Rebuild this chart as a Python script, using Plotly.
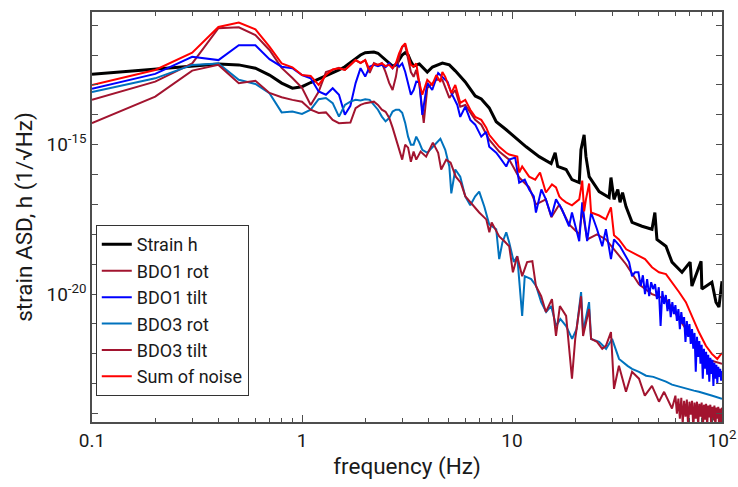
import plotly.graph_objects as go

# ---------------- data ----------------
# Frequencies in Hz; amplitudes stored as log10 of the strain ASD (1/sqrt(Hz))
freq_low = [0.1, 0.2, 0.3, 0.4, 0.5, 0.6, 0.7, 0.8, 0.9, 1.0,
            1.1, 1.2, 1.3, 1.4, 1.5, 1.6, 1.7, 1.8, 1.9, 2.0,
            2.1, 2.2, 2.3, 2.4, 2.5, 2.6, 2.7, 2.8, 2.9, 3.0,
            3.1, 3.2, 3.3, 3.4, 3.5]

strain_low_log10 = [-12.64, -12.48, -12.39, -12.30, -12.33, -12.44, -12.67, -12.94, -13.11, -13.06,
                    -12.92, -12.80, -12.69, -12.61, -12.50, -12.39, -12.26, -12.11, -12.00, -11.92,
                    -11.90, -11.90, -11.94, -12.06, -12.17, -12.28, -12.37, -12.33, -12.17, -12.00,
                    -11.92, -12.00, -12.22, -12.37, -12.33]
strain_hf_freq = [3.62, 3.95, 4.18, 4.66, 5.03, 5.37, 5.99, 6.68, 7.14, 7.79,
                  8.41, 9.39, 10.36, 11.68, 13.47, 15.36, 16.05, 16.5, 18.1, 19.3,
                  20.9, 21.3, 22.05, 22.5, 23.3, 24.6, 26.0, 29.0, 29.6, 30.6,
                  31.9, 32.7, 33.6, 34.9, 37.3, 41.6, 46.4, 47.9, 49.0, 54.1,
                  57.8, 64.5, 70.5, 71.9, 79.5, 80.2, 89.5, 93.6, 96.7, 100.0]
strain_hf_log10 = [-12.30, -12.57, -12.40, -12.27, -12.33, -12.53, -12.90, -13.37, -13.47, -13.77,
                   -14.23, -14.50, -14.77, -15.07, -15.40, -15.63, -15.27, -15.73, -15.83, -16.17,
                   -16.27, -15.17, -14.67, -15.40, -16.07, -16.30, -16.57, -16.77, -16.10, -16.83,
                   -16.50, -16.93, -16.60, -17.07, -17.60, -17.73, -17.83, -17.27, -18.17, -18.40,
                   -18.93, -19.27, -18.93, -19.73, -18.90, -19.83, -19.60, -20.27, -20.43, -19.57]

bdo1_rot_low_log10 = [-13.50, -12.89, -12.28, -11.10, -11.07, -11.33, -11.83, -12.43, -12.77, -13.10,
                      -13.67, -13.23, -12.57, -12.50, -12.43, -12.50, -12.33, -12.17, -12.27, -12.17,
                      -12.60, -12.27, -12.33, -12.27, -12.57, -12.93, -13.17, -12.73, -12.07, -11.73,
                      -11.67, -12.17, -12.57, -12.73, -12.50]
bdo1_rot_hf_freq = [3.62, 3.80, 3.95, 4.36, 4.66, 5.03, 5.37, 5.67, 5.99, 6.68,
                    7.14, 7.79, 8.69, 9.70, 10.82, 12.07, 13.0, 14.5, 15.4, 16.8,
                    18.7, 20.9, 21.6, 22.8, 25.4, 28.0, 30.6, 34.9, 40.25, 46.4,
                    54.1, 62.4, 71.9, 83.8, 100.0]
bdo1_rot_hf_log10 = [-12.97, -14.27, -13.10, -12.83, -12.83, -13.43, -13.17, -13.73, -13.67, -14.17,
                     -14.33, -14.83, -15.23, -15.50, -16.10, -16.43, -17.00, -16.83, -17.43, -17.00,
                     -17.67, -18.00, -17.17, -18.17, -18.00, -18.17, -18.50, -19.00, -19.67, -20.00,
                     -20.17, -20.83, -21.50, -22.17, -22.33]

bdo1_tilt_low_log10 = [-13.13, -12.63, -12.06, -12.17, -11.67, -11.67, -12.14, -12.39, -12.44, -12.67,
                       -12.78, -13.22, -13.33, -13.11, -13.33, -14.00, -13.70, -12.94, -12.44, -12.72,
                       -12.39, -12.33, -12.37, -12.33, -12.41, -12.28, -12.44, -12.28, -12.39, -12.28,
                       -12.56, -13.00, -13.33, -13.17, -12.89]
bdo1_tilt_hf_freq = [3.62, 3.74, 3.95, 4.17, 4.45, 4.66, 4.94, 5.14, 5.49, 5.67,
                     5.99, 6.33, 6.68, 7.14, 7.54, 7.79, 8.41, 8.69, 9.39, 9.70,
                     10.36, 10.82, 11.5, 12.07, 12.7, 13.0, 13.8, 14.5, 15.4, 16.2,
                     17.3, 18.7, 19.3, 20.9, 21.6, 22.8, 23.8, 25.4, 26.9, 28.0,
                     29.6, 30.6, 32.7, 36.1, 37.3, 38.5,
                     40, 41, 42, 43, 44, 45, 46, 47, 48, 49,
                     50, 51, 52, 53, 54, 55, 56, 57, 58, 59,
                     60, 61, 62, 63, 64, 65, 66, 67, 68, 69,
                     70, 71, 72, 73, 74, 75, 76, 77, 78, 79,
                     80, 81, 82, 83, 84, 85, 86, 87, 88, 89,
                     90, 91, 92, 93, 94, 95, 96, 97, 98, 99,
                     100]
bdo1_tilt_hf_log10 = [-12.90, -14.00, -12.93, -13.17, -12.60, -12.73, -12.90, -13.27, -13.67, -14.07,
                      -13.73, -14.17, -14.33, -14.73, -14.57, -15.07, -15.27, -15.40, -15.73, -15.50,
                      -15.43, -16.27, -16.17, -16.50, -16.73, -17.27, -16.50, -16.83, -17.40, -16.83,
                      -17.17, -17.73, -17.27, -18.23, -16.93, -18.23, -17.27, -17.83, -18.40, -17.83,
                      -18.83, -18.17, -18.40, -18.93, -19.40, -19.27,
                      -19.27, -19.73, -19.37, -20.00, -19.50, -20.07, -19.60, -19.83, -19.67, -20.17,
                      -19.77, -21.07, -19.90, -20.33, -20.03, -20.57, -20.17, -20.77, -20.27, -20.67,
                      -20.37, -20.90, -20.50, -21.17, -20.60, -21.00, -20.77, -21.60, -20.90, -21.43,
                      -21.00, -21.67, -21.17, -21.83, -21.30, -22.60, -21.43, -22.10, -21.57, -22.33,
                      -21.70, -22.83, -21.83, -22.50, -21.93, -22.70, -22.03, -22.93, -22.13, -22.67,
                      -22.20, -23.07, -22.30, -22.83, -22.37, -22.97, -22.43, -22.77, -22.50, -22.90,
                      -22.57]

bdo3_rot_low_log10 = [-13.24, -12.78, -12.33, -12.28, -12.83, -12.97, -13.28, -13.92, -13.89, -13.97,
                      -13.83, -13.48, -13.44, -13.61, -14.06, -13.67, -13.56, -13.50, -13.52, -13.48,
                      -13.50, -13.67, -13.83, -14.06, -14.22, -14.11, -13.89, -13.83, -13.83, -13.93,
                      -14.27, -14.73, -15.00, -15.00, -14.73]
bdo3_rot_hf_freq = [3.62, 3.74, 3.95, 4.17, 4.56, 4.81, 5.03, 5.14, 5.37, 5.67,
                    5.99, 6.33, 6.68, 6.98, 7.38, 7.79, 8.41, 8.69, 9.0, 9.39,
                    9.70, 10.2, 10.59, 11.18, 11.5, 12.34, 13.03, 13.77, 14.54, 15.36,
                    16.23, 17.0, 18.1, 19.33, 20.3, 21.33, 21.8, 23.28, 23.8, 26.0,
                    28.05, 29.96, 32.34, 35.5, 37.28, 40.25, 43.5, 47.1, 50.1, 54.1,
                    57.8, 62.4, 68.0, 73.5, 77.65, 83.8, 90.0, 100.0]
bdo3_rot_hf_log10 = [-14.93, -15.17, -15.27, -15.10, -14.80, -15.17, -15.73, -16.63, -15.83, -16.07,
                     -16.73, -17.03, -16.73, -16.57, -17.07, -17.67, -17.83, -18.83, -18.27, -17.93,
                     -18.27, -18.93, -18.73, -20.73, -19.40, -19.50, -19.73, -20.27, -20.60, -20.40,
                     -21.07, -20.83, -21.07, -21.50, -21.17, -19.93, -21.27, -20.27, -21.50, -21.60,
                     -21.83, -21.50, -22.17, -22.40, -22.50, -22.60, -22.73, -22.77, -22.83, -22.93,
                     -23.03, -23.10, -23.17, -23.23, -23.27, -23.33, -23.40, -23.50]

bdo3_tilt_low_log10 = [-14.28, -13.39, -12.52, -12.33, -12.94, -12.86, -13.27, -13.41, -13.50, -13.56,
                       -13.83, -13.94, -13.92, -14.17, -14.28, -14.28, -14.26, -13.78, -13.67, -13.61,
                       -13.59, -13.56, -13.67, -13.83, -13.90, -14.10, -14.43, -14.83, -15.17, -15.50,
                       -15.00, -15.10, -15.57, -15.23, -15.50]
bdo3_tilt_hf_freq = [3.67, 3.9, 4.2, 4.45, 4.6, 4.86, 5.1, 5.4, 5.7, 6.0,
                     6.33, 6.98, 7.54, 7.8, 8.0, 8.69, 9.2, 9.7, 10.1, 10.59,
                     11.18, 11.8, 12.5, 13.0, 13.77, 14.5, 15.5, 16.2, 16.9, 18.1,
                     19.3, 20.0, 21.33, 21.8, 23.28, 23.8, 25.4, 26.9, 28.0, 29.6,
                     30.6, 32.3, 34.9, 37.3, 40.25, 42.9, 46.4, 50.1, 53.0, 57.8,
                     60, 61, 62, 63, 64, 65, 66, 67, 68, 69,
                     70, 71, 72, 73, 74, 75, 76, 77, 78, 79,
                     80, 81, 82, 83, 84, 85, 86, 87, 88, 89,
                     90, 91, 92, 93, 94, 95, 96, 97, 98, 99,
                     100]
bdo3_tilt_hf_log10 = [-15.23, -15.40, -14.93, -15.27, -15.83, -15.50, -15.60, -16.07, -16.27, -16.73,
                      -16.93, -17.27, -17.50, -17.93, -17.60, -18.07, -18.23, -18.40, -19.27, -18.73,
                      -19.40, -18.93, -18.90, -19.73, -20.07, -20.60, -20.17, -21.40, -20.40, -20.73,
                      -22.83, -21.50, -20.07, -21.40, -20.50, -21.50, -21.60, -21.83, -21.73, -21.27,
                      -23.17, -22.40, -23.27, -22.60, -22.83, -23.40, -23.07, -23.60, -23.27, -23.83,
                      -23.40, -24.00, -23.50, -24.17, -23.47, -24.33, -23.57, -24.10, -23.53, -24.43,
                      -23.60, -24.03, -23.57, -24.50, -23.63, -24.17, -23.60, -24.40, -23.67, -24.10,
                      -23.63, -24.57, -23.70, -24.20, -23.67, -24.43, -23.73, -24.13, -23.70, -24.60,
                      -23.77, -24.23, -23.73, -24.47, -23.80, -24.17, -23.77, -24.53, -23.83, -24.30,
                      -23.80]

sum_low_log10 = [-13.00, -12.50, -11.92, -11.06, -10.91, -11.14, -11.72, -12.28, -12.41, -12.67,
                 -12.70, -13.00, -12.67, -12.48, -12.44, -12.50, -12.33, -12.17, -12.26, -12.17,
                 -12.50, -12.30, -12.33, -12.28, -12.37, -12.33, -12.44, -12.28, -11.94, -11.72,
                 -11.61, -11.94, -12.33, -12.39, -12.28]
sum_hf_freq = [3.62, 3.74, 3.95, 4.17, 4.36, 4.56, 4.66, 4.81, 5.14, 5.37,
               5.67, 5.99, 6.33, 6.68, 7.14, 7.54, 7.79, 8.41, 8.69, 9.39,
               9.70, 10.6, 10.82, 11.18, 12.07, 12.9, 13.6, 14.5, 15.5, 16.2,
               16.8, 17.3, 18.1, 19.3, 20.9, 21.6, 22.05, 22.5, 23.3, 23.8,
               26.0, 28.0, 29.6, 30.6, 32.3, 35.0, 37.3, 40.25, 43.0, 46.4,
               50.1, 54.1, 57.8, 62.4, 67.3, 71.9, 77.6, 83.8, 89.5, 95.0,
               100.0]
sum_hf_log10 = [-12.93, -13.33, -12.83, -13.00, -12.67, -12.90, -12.57, -12.73, -13.27, -13.00,
                -13.60, -13.50, -13.83, -14.07, -14.17, -14.43, -14.67, -14.93, -15.07, -15.27,
                -15.33, -15.40, -15.93, -15.73, -16.07, -16.17, -15.93, -16.60, -16.33, -16.43,
                -16.73, -16.83, -16.93, -17.03, -16.83, -16.20, -17.23, -16.83, -16.30, -17.27,
                -17.37, -17.50, -17.10, -18.03, -18.17, -18.50, -18.60, -18.73, -18.83, -19.10,
                -19.27, -19.33, -19.60, -19.93, -20.27, -20.73, -21.27, -21.73, -22.00, -22.17,
                -21.97]

series_names = ["Strain h", "BDO1 rot", "BDO1 tilt", "BDO3 rot", "BDO3 tilt", "Sum of noise"]
series_colors = ["#000000", "#A2142F", "#0000FF", "#0072BD", "#A2142F", "#FF0000"]
series_widths = [3, 2, 2, 2, 2, 2]

x_tick_vals = [0.1, 1, 10, 100]
x_tick_text = ["0.1", "1", "10", "10<sup>2</sup>"]
x_minor_vals = [0.2, 0.3, 0.4, 0.5, 0.6, 0.7, 0.8, 0.9,
                2, 3, 4, 5, 6, 7, 8, 9,
                20, 30, 40, 50, 60, 70, 80, 90]
y_tick_vals = [1e-20, 1e-15]
y_tick_text = ["10<sup>-20</sup>", "10<sup>-15</sup>"]
y_minor_vals = [1e-24, 1e-23, 1e-22, 1e-21, 1e-19, 1e-18,
                1e-17, 1e-16, 1e-14, 1e-13, 1e-12, 1e-11]

# ---------------- build figure ----------------
series = [
    (strain_low_log10, strain_hf_freq, strain_hf_log10),
    (bdo1_rot_low_log10, bdo1_rot_hf_freq, bdo1_rot_hf_log10),
    (bdo1_tilt_low_log10, bdo1_tilt_hf_freq, bdo1_tilt_hf_log10),
    (bdo3_rot_low_log10, bdo3_rot_hf_freq, bdo3_rot_hf_log10),
    (bdo3_tilt_low_log10, bdo3_tilt_hf_freq, bdo3_tilt_hf_log10),
    (sum_low_log10, sum_hf_freq, sum_hf_log10),
]

fig = go.Figure()
for (low, hf_f, hf_v), name, color, width in zip(series, series_names, series_colors, series_widths):
    xs = list(freq_low) + list(hf_f)
    ys = [10 ** v for v in list(low) + list(hf_v)]
    fig.add_trace(go.Scatter(x=xs, y=ys, mode="lines", name=name,
                             line=dict(color=color, width=width)))

axis_color = "#4d4d4d"
fig.update_layout(
    width=738, height=487,
    margin=dict(l=92, r=16, t=12, b=65),
    paper_bgcolor="white", plot_bgcolor="white",
    font=dict(family="Roboto, Arial, sans-serif", size=19, color="#1a1a1a"),
    legend=dict(x=0.006, y=0.063, xanchor="left", yanchor="bottom",
                bgcolor="white", bordercolor="#333333", borderwidth=1,
                font=dict(size=18), tracegroupgap=0),
)
fig.update_xaxes(
    type="log", range=[-1, 2], automargin=False,
    tickmode="array", tickvals=x_tick_vals, ticktext=x_tick_text,
    ticks="inside", ticklen=7, tickwidth=1, tickcolor=axis_color,
    tickfont=dict(size=19),
    minor=dict(ticks="inside", ticklen=4, tickwidth=1, tickcolor=axis_color,
               tickmode="array", tickvals=x_minor_vals, showgrid=False),
    showline=True, linecolor=axis_color, linewidth=1.5, mirror="ticks",
    showgrid=False, zeroline=False,
    title=dict(text="frequency (Hz)", font=dict(size=22.5), standoff=8),
)
fig.update_yaxes(
    type="log", range=[-24.28, -10.56], automargin=False,
    tickmode="array", tickvals=y_tick_vals, ticktext=y_tick_text,
    ticks="inside", ticklen=6, tickwidth=1, tickcolor=axis_color,
    tickfont=dict(size=19),
    minor=dict(ticks="inside", ticklen=6, tickwidth=1, tickcolor=axis_color,
               tickmode="array", tickvals=y_minor_vals, showgrid=False),
    showline=True, linecolor=axis_color, linewidth=1.5, mirror="ticks",
    showgrid=False, zeroline=False,
    title=dict(text="strain ASD, h (1/\u221aHz)", font=dict(size=22.5), standoff=8),
)

# remove the default page margin so the 738x487 figure fills the window exactly
fig.write_html("out.html",
               config={"displayModeBar": False},
               post_script="document.body.style.margin='0';document.body.style.overflow='hidden';")
